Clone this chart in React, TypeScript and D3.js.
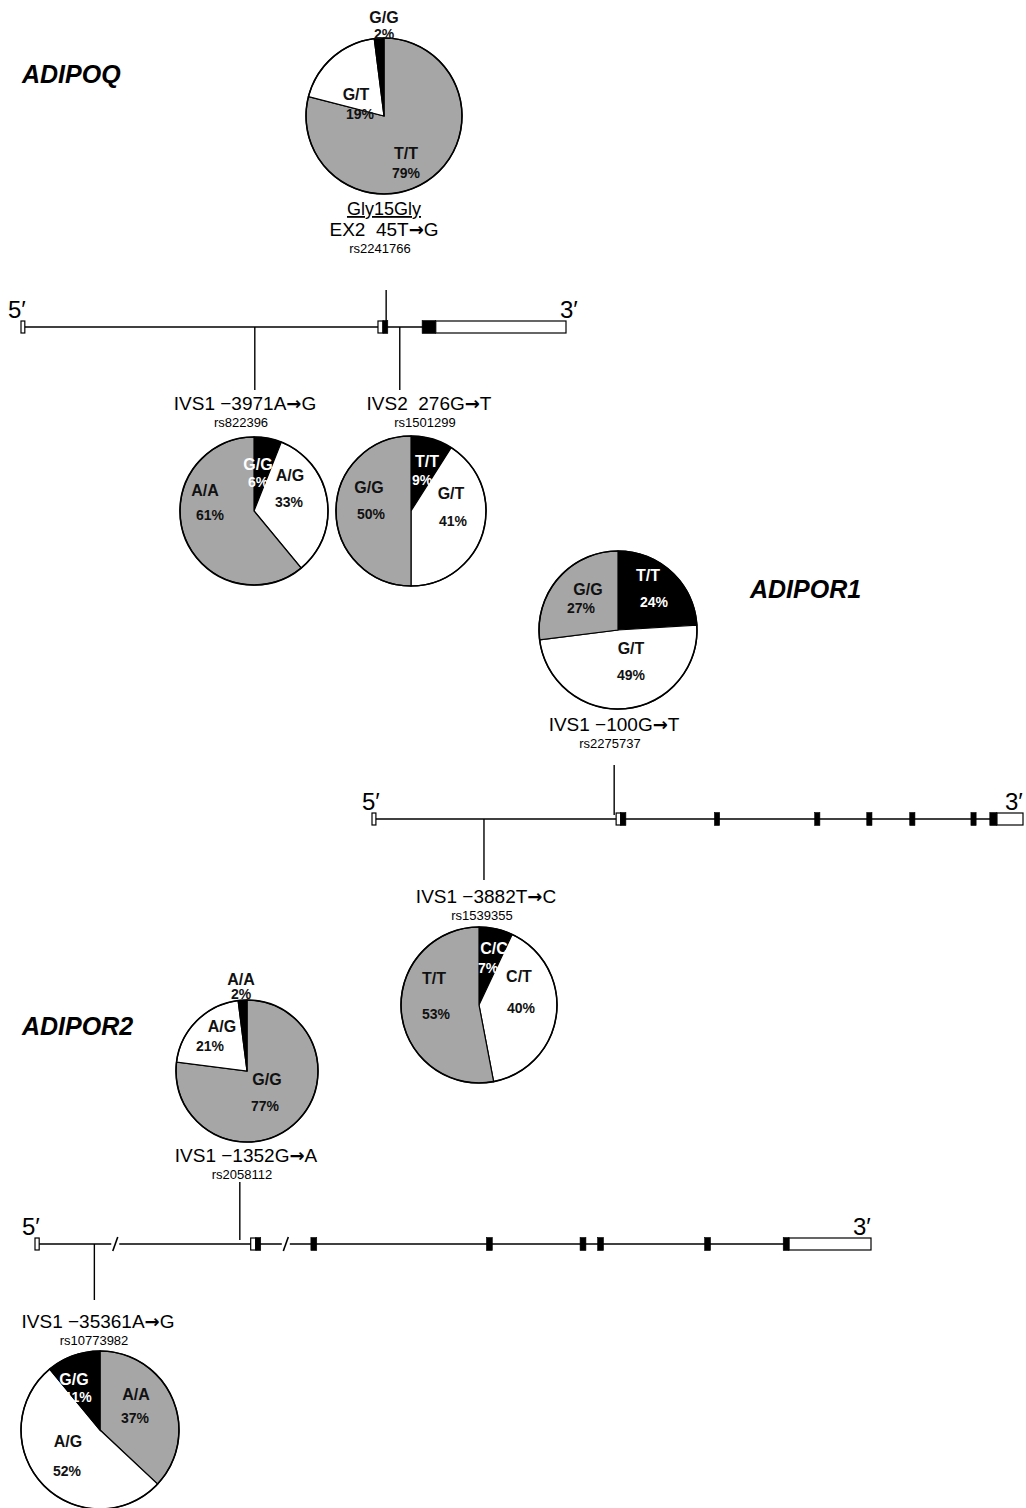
import React, { useEffect, useRef } from "react";
import * as d3 from "d3";

// genotype frequencies (%), slices run clockwise from 12 o'clock
const snpNames = [
  "EX2  45T\u2192G",
  "IVS1 \u22123971A\u2192G",
  "IVS2  276G\u2192T",
  "IVS1 \u2212100G\u2192T",
  "IVS1 \u22123882T\u2192C",
  "IVS1 \u22121352G\u2192A",
  "IVS1 \u221235361A\u2192G",
];
const rsIds = ["rs2241766", "rs822396", "rs1501299", "rs2275737", "rs1539355", "rs2058112", "rs10773982"];
const genotypes = [
  ["T/T", "G/T", "G/G"],
  ["G/G", "A/G", "A/A"],
  ["T/T", "G/T", "G/G"],
  ["T/T", "G/T", "G/G"],
  ["C/C", "C/T", "T/T"],
  ["G/G", "A/G", "A/A"],
  ["A/A", "A/G", "G/G"],
];
const percents = [
  [79, 19, 2],
  [6, 33, 61],
  [9, 41, 50],
  [24, 49, 27],
  [7, 40, 53],
  [77, 21, 2],
  [37, 52, 11],
];

// gene models, positions in relative units (0 = 5' end, 100 = 3' end)
const geneNames = ["ADIPOQ", "ADIPOR1", "ADIPOR2"];
const exonStarts = [
  [0, 65.5, 66.4, 73.6, 76.1],
  [0, 37.5, 38.2, 52.6, 68.0, 76.0, 82.6, 92.0, 94.9, 96.0],
  [0, 25.8, 26.4, 33.0, 54.0, 65.2, 67.3, 80.1, 89.5, 90.2],
];
const exonEnds = [
  [0.7, 66.4, 67.3, 76.1, 100],
  [0.6, 38.2, 39.0, 53.4, 68.8, 76.8, 83.4, 92.8, 96.0, 100],
  [0.5, 26.4, 27.0, 33.7, 54.7, 65.9, 68.0, 80.8, 90.2, 100],
];
const exonCoding = [
  [false, false, true, true, false],
  [false, false, true, true, true, true, true, true, true, false],
  [false, false, true, true, true, true, true, true, true, false],
];
const lineBreaks = [[], [], [9.6, 30.0]];
// snp index -> gene, position, side
const snpGene = [0, 0, 0, 1, 1, 2, 2];
const snpPos = [67.0, 42.9, 69.5, 37.2, 17.2, 24.5, 7.1];
const snpUp = [true, false, false, true, false, true, false];

// ---- layout ----
const W = 1026;
const H = 1508;
const geneLayout = [
  { x0: 21, x1: 566, y: 327, up: 290, down: 390, five: 8, three: 560 },
  { x0: 372, x1: 1023, y: 819, up: 765, down: 880, five: 362, three: 1005 },
  { x0: 35, x1: 871, y: 1244, up: 1182, down: 1300, five: 22, three: 853 },
];
const titlePos = [
  [22, 83],
  [750, 598],
  [22, 1035],
];
const pieLayout = [
  { cx: 384, cy: 116, r: 78, lx: 384, ly: 236 },
  { cx: 254, cy: 511, r: 74, lx: 245, ly: 410 },
  { cx: 411, cy: 511, r: 75, lx: 429, ly: 410 },
  { cx: 618, cy: 630, r: 79, lx: 614, ly: 731 },
  { cx: 479, cy: 1005, r: 78, lx: 486, ly: 903 },
  { cx: 247, cy: 1071, r: 71, lx: 246, ly: 1162 },
  { cx: 100, cy: 1430, r: 79, lx: 98, ly: 1328 },
];
// [genotype dx, dy, percent dx, dy] relative to pie centre
const labelOffsets = [
  [[22, 37, 22, 57], [-28, -22, -24, -2], [0, -99, 0, -82]],
  [[4, -47, 4, -29], [36, -36, 35, -9], [-49, -21, -44, 4]],
  [[16, -50, 11, -31], [40, -18, 42, 10], [-42, -24, -40, 3]],
  [[30, -55, 36, -28], [13, 18, 13, 45], [-30, -41, -37, -22]],
  [[15, -57, 9, -37], [40, -29, 42, 3], [-45, -27, -43, 9]],
  [[20, 8, 18, 35], [-25, -45, -37, -25], [-6, -92, -6, -77]],
  [[36, -36, 35, -12], [-32, 11, -33, 41], [-26, -51, -22, -33]],
];
const outsideLabel = [[false, false, true], [], [], [], [], [false, false, true], []];
const shade: Record<string, string> = { hom1: "#a6a6a6", het: "#ffffff", hom2: "#000000" };
const sliceShade = [
  ["hom1", "het", "hom2"],
  ["hom2", "het", "hom1"],
  ["hom2", "het", "hom1"],
  ["hom2", "het", "hom1"],
  ["hom2", "het", "hom1"],
  ["hom1", "het", "hom2"],
  ["hom1", "het", "hom2"],
];

const FONT = "'Liberation Sans', Arial, Helvetica, sans-serif";

const App = () => {
  const svgRef = useRef<SVGSVGElement>(null);

  useEffect(() => {
    const svg = d3.select(svgRef.current);
    svg.selectAll("*").remove();
    svg.append("rect").attr("width", W).attr("height", H).attr("fill", "#fff");

    // gene titles
    geneNames.forEach((name, i) => {
      svg
        .append("text")
        .attr("x", titlePos[i][0])
        .attr("y", titlePos[i][1])
        .attr("font-family", FONT)
        .attr("font-size", 25)
        .attr("font-weight", "bold")
        .attr("font-style", "italic")
        .text(name);
    });

    // gene structures
    geneNames.forEach((_, gi) => {
      const gl = geneLayout[gi];
      const x = d3.scaleLinear().domain([0, 100]).range([gl.x0, gl.x1]);
      const g = svg.append("g");

      g.append("line")
        .attr("x1", x(0))
        .attr("x2", x(100))
        .attr("y1", gl.y)
        .attr("y2", gl.y)
        .attr("stroke", "#000")
        .attr("stroke-width", 1.4);

      lineBreaks[gi].forEach((b) => {
        g.append("rect")
          .attr("x", x(b) - 4)
          .attr("y", gl.y - 3)
          .attr("width", 8)
          .attr("height", 6)
          .attr("fill", "#fff");
        g.append("line")
          .attr("x1", x(b) - 2.5)
          .attr("x2", x(b) + 2.5)
          .attr("y1", gl.y + 7)
          .attr("y2", gl.y - 7)
          .attr("stroke", "#000")
          .attr("stroke-width", 1.6);
      });

      // snp connectors
      snpGene.forEach((gIdx, si) => {
        if (gIdx !== gi) return;
        const px = x(snpPos[si]);
        g.append("line")
          .attr("x1", px)
          .attr("x2", px)
          .attr("y1", snpUp[si] ? gl.up : gl.y)
          .attr("y2", snpUp[si] ? gl.y - 4 : gl.down)
          .attr("stroke", "#000")
          .attr("stroke-width", 1.4);
      });

      exonStarts[gi].forEach((s, k) => {
        const e = exonEnds[gi][k];
        const coding = exonCoding[gi][k];
        const h = coding ? 13 : 12;
        g.append("rect")
          .attr("x", x(s))
          .attr("y", gl.y - h / 2)
          .attr("width", Math.max(x(e) - x(s), 2))
          .attr("height", h)
          .attr("fill", coding ? "#000" : "#fff")
          .attr("stroke", "#000")
          .attr("stroke-width", coding ? 0.6 : 1.2);
      });

      g.append("text")
        .attr("x", gl.five)
        .attr("y", gl.y - 9)
        .attr("font-family", FONT)
        .attr("font-size", 24)
        .text("5\u2032");
      g.append("text")
        .attr("x", gl.three)
        .attr("y", gl.y - 9)
        .attr("font-family", FONT)
        .attr("font-size", 24)
        .text("3\u2032");
    });

    // pies
    const pie = d3.pie<number>().sort(null).value((d) => d);
    percents.forEach((vals, i) => {
      const pl = pieLayout[i];
      const arc = d3.arc<d3.PieArcDatum<number>>().innerRadius(0).outerRadius(pl.r);
      const g = svg.append("g").attr("transform", `translate(${pl.cx},${pl.cy})`);
      g.selectAll("path")
        .data(pie(vals))
        .enter()
        .append("path")
        .attr("d", arc)
        .attr("fill", (d) => shade[sliceShade[i][d.index]])
        .attr("stroke", "#000")
        .attr("stroke-width", 1.2);
      g.append("circle").attr("r", pl.r).attr("fill", "none").attr("stroke", "#000").attr("stroke-width", 1.6);

      vals.forEach((v, j) => {
        const o = labelOffsets[i][j];
        const inBlack = sliceShade[i][j] === "hom2" && !(outsideLabel[i] && outsideLabel[i][j]);
        const col = inBlack ? "#fff" : "#111";
        g.append("text")
          .attr("x", o[0])
          .attr("y", o[1])
          .attr("text-anchor", "middle")
          .attr("dominant-baseline", "central")
          .attr("font-family", FONT)
          .attr("font-weight", "bold")
          .attr("font-size", 16)
          .attr("fill", col)
          .text(genotypes[i][j]);
        g.append("text")
          .attr("x", o[2])
          .attr("y", o[3])
          .attr("text-anchor", "middle")
          .attr("dominant-baseline", "central")
          .attr("font-family", FONT)
          .attr("font-weight", "bold")
          .attr("font-size", 14)
          .attr("fill", col)
          .text(`${v}%`);
      });

      // snp labels
      if (i === 0) {
        svg
          .append("text")
          .attr("x", pl.lx)
          .attr("y", pl.ly - 21)
          .attr("text-anchor", "middle")
          .attr("font-family", FONT)
          .attr("font-size", 18)
          .attr("text-decoration", "underline")
          .text("Gly15Gly");
      }
      const [pre, post] = snpNames[i].split("\u2192");
      const t = svg
        .append("text")
        .attr("x", pl.lx)
        .attr("y", pl.ly)
        .attr("text-anchor", "middle")
        .attr("font-family", FONT)
        .attr("font-size", 19)
        .style("white-space", "pre");
      t.append("tspan").text(pre);
      t.append("tspan")
        .attr("font-family", "'DejaVu Sans', sans-serif")
        .attr("font-weight", "bold")
        .attr("font-size", 18)
        .text("\u2192");
      t.append("tspan").text(post);
      svg
        .append("text")
        .attr("x", pl.lx - 4)
        .attr("y", pl.ly + 17)
        .attr("text-anchor", "middle")
        .attr("font-family", FONT)
        .attr("font-size", 13)
        .text(rsIds[i]);
    });
  }, []);

  return (
    <svg
      ref={svgRef}
      width={W}
      height={H}
      style={{ position: "absolute", left: 0, top: 0, display: "block" }}
    />
  );
};

export default App;
